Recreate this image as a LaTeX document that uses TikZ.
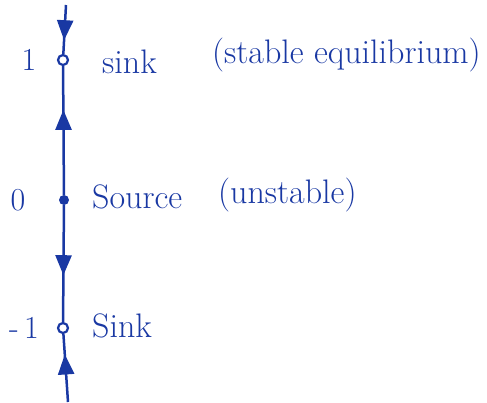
\documentclass[tikz,border=0pt]{standalone}
\usetikzlibrary{arrows.meta,decorations.markings}
\definecolor{ink}{rgb}{0.1,0.22,0.64}
\tikzset{
  x=1pt,y=-1pt,
  phase/.style={ink,line width=2.5pt},
  flow/.style={phase,postaction={decorate},decoration={markings,
     mark=at position #1 with {\arrow{Triangle[width=16pt,length=20pt]}}}},
  openpt/.style={circle,draw=ink,line width=2.2pt,fill=white,inner sep=0pt,minimum size=10pt},
  fullpt/.style={circle,fill=ink,inner sep=0pt,minimum size=10pt},
  lbl/.style={text=ink,font=\fontsize{34}{40}\selectfont,inner sep=0pt},
  val/.style={text=ink,font=\fontsize{32}{36}\selectfont,inner sep=0pt},
}
\begin{document}
\begin{tikzpicture}
\useasboundingbox (0,0) rectangle (487,402);
\coordinate (top) at (66,5);
\coordinate (bot) at (68,402);
\node[openpt] (p1) at (63,60) {};
\node[fullpt] (p0) at (64,200) {};
\node[openpt] (pm1) at (63,328) {};
\draw[flow=0.72] (top) -- (p1);
\draw[flow=0.66] (p0) -- (p1);
\draw[flow=0.6] (p0) -- (pm1);
\draw[flow=0.7] (bot) -- (pm1);
\node[val] (v1) at (29,60) {1};
\node[val] (v0) at (18,200) {0};
\node[val] (vm1) at (24,328) {-\,1};
\node[lbl,anchor=west] (s1) at (102,62) {sink};
\node[lbl,anchor=west] (s0) at (92,197) {Source};
\node[lbl,anchor=west] (sm1) at (92,326) {Sink};
\node[lbl,anchor=west] (e1) at (212,55) {(stable equilibrium)};
\node[lbl,anchor=west] (e0) at (218,195) {(unstable)};
\end{tikzpicture}
\end{document}
